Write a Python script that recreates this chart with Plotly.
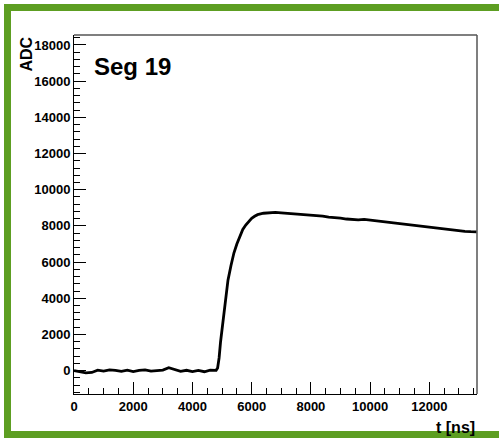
import plotly.graph_objects as go

# Waveform samples
t_ns = [0, 200, 400, 600, 800, 1000, 1200, 1400, 1600, 1800, 2000, 2200, 2400, 2600, 2800,
        3000, 3200, 3400, 3600, 3800, 4000, 4200, 4400, 4600, 4800,
        4850, 4900, 4950, 5000, 5050, 5100, 5150, 5200, 5300, 5400, 5500, 5600, 5700, 5800,
        5900, 6000, 6100, 6200, 6400, 6600, 6800, 7000, 7200, 7400, 7600, 7800, 8000, 8200,
        8400, 8600, 8800, 9000, 9200, 9400, 9600, 9800, 10000, 10200, 10400, 10600, 10800,
        11000, 11200, 11400, 11600, 11800, 12000, 12200, 12400, 12600, 12800, 13000, 13200,
        13400, 13600]
adc = [0, -60, -120, -100, 30, -20, 40, 20, -40, 30, -50, 10, 40, -30, 0,
       30, 160, 60, -40, 20, -50, 10, -60, 30, 20,
       150, 700, 1600, 2300, 3000, 3750, 4400, 5000, 5800, 6500, 7000, 7450, 7800, 8050,
       8250, 8420, 8530, 8620, 8700, 8740, 8750, 8720, 8700, 8680, 8660, 8640, 8620, 8600,
       8540, 8480, 8470, 8430, 8380, 8350, 8330, 8360, 8320, 8260, 8230, 8180, 8160,
       8120, 8080, 8020, 7990, 7950, 7910, 7860, 7820, 7780, 7770, 7720, 7700,
       7680, 7670]

x_range = [0, 13610]
y_range = [-1290, 18550]
label_text = "Seg 19"

W, H = 499, 438
L, R, T, B = 74, 477, 35, 394


def px(x):
    return (x - L) / (R - L)


def py(y):
    return (B - y) / (B - T)


fig = go.Figure()
fig.add_trace(go.Scatter(x=t_ns, y=adc, mode="lines",
                         line=dict(color="black", width=2.8), showlegend=False))

font = dict(family="Liberation Sans, Arial, sans-serif", color="black")

axis_common = dict(dtick=2000, ticks="inside", ticklen=12, tickwidth=1,
                   tickcolor="black", showline=True, linecolor="black", linewidth=1,
                   showgrid=False, zeroline=False, exponentformat="none",
                   separatethousands=False, tickformat="d",
                   tickfont=dict(size=13, weight="bold", **font))

fig.update_layout(
    width=W, height=H,
    margin=dict(l=L, r=W - R, t=T, b=H - B),
    paper_bgcolor="white", plot_bgcolor="white",
    xaxis=dict(range=x_range, **axis_common,
               minor=dict(ticks="inside", ticklen=6, dtick=500, tickcolor="black",
                          showgrid=False)),
    yaxis=dict(range=y_range, **axis_common,
               minor=dict(ticks="inside", ticklen=6, dtick=400, tickcolor="black",
                          showgrid=False)),
)

# frame top / right (gray)
fig.add_shape(type="line", xref="paper", yref="paper", x0=0, x1=1, y0=1, y1=1,
              line=dict(color="#555555", width=1.5))
fig.add_shape(type="line", xref="paper", yref="paper", x0=1, x1=1, y0=0, y1=1,
              line=dict(color="#555555", width=1.5))

# green border (top, left, bottom)
green = "#5d9e22"
fig.add_shape(type="rect", xref="paper", yref="paper", x0=px(4), x1=px(W), y0=py(11), y1=py(4),
              line=dict(width=0), fillcolor=green, layer="above")
fig.add_shape(type="rect", xref="paper", yref="paper", x0=px(4), x1=px(11), y0=py(438), y1=py(4),
              line=dict(width=0), fillcolor=green, layer="above")
fig.add_shape(type="rect", xref="paper", yref="paper", x0=px(4), x1=px(W), y0=py(438), y1=py(431),
              line=dict(width=0), fillcolor=green, layer="above")

fig.add_annotation(text=label_text, xref="paper", yref="paper", x=px(92), y=py(66),
                   xanchor="left", yanchor="middle", showarrow=False,
                   font=dict(size=24, weight="bold", **font))
fig.add_annotation(text="ADC", xref="paper", yref="paper", x=px(26), y=py(35),
                   xanchor="center", yanchor="top", textangle=-90, showarrow=False,
                   font=dict(size=16, weight="bold", **font))
fig.add_annotation(text="t [ns]", xref="paper", yref="paper", x=px(477), y=py(427),
                   xanchor="right", yanchor="middle", showarrow=False,
                   font=dict(size=16, weight="bold", **font))

fig.write_html("out.html")
